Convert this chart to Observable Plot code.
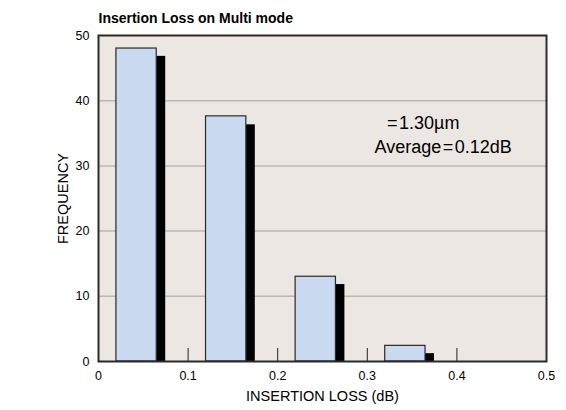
<!DOCTYPE html>
<html>
<head>
<meta charset="utf-8">
<script src="https://cdn.jsdelivr.net/npm/d3@7"></script>
<script src="https://cdn.jsdelivr.net/npm/@observablehq/plot@0.6"></script>
<style>
  html, body { margin: 0; padding: 0; background: #ffffff; }
  #chart { width: 566px; height: 410px; }
</style>
</head>
<body>
<div id="chart"></div>
<script>
// ---- data ----
const binStart = [0.02, 0.12, 0.22, 0.32];
const binEnd = [0.065, 0.165, 0.265, 0.365];
const frequency = [48, 37.6, 13, 2.4];
const shadowStart = [0.065, 0.165, 0.265, 0.365];
const shadowEnd = [0.075, 0.175, 0.275, 0.375];
const shadowTop = [46.8, 36.3, 11.8, 1.2];
const xTickValues = [0, 0.1, 0.2, 0.3, 0.4, 0.5];
const xInnerTicks = [0.1, 0.2, 0.3, 0.4];
const yTickValues = [0, 10, 20, 30, 40, 50];
const yGrid = [10, 20, 30, 40];
const title = "Insertion Loss on Multi mode";
const xLabel = "INSERTION LOSS (dB)";
const yLabel = "FREQUENCY";
const notes = ["=\u200A1.30µm", "Average\u200A=\u200A0.12dB"];
const noteX = [0.322, 0.308];
const noteY = [36.5, 32.8];

const bars = binStart.map((s, i) => ({x1: s, x2: binEnd[i], y: frequency[i]}));
const shadows = shadowStart.map((s, i) => ({x1: s, x2: shadowEnd[i], y: shadowTop[i]}));
const noteData = notes.map((t, i) => ({text: t, x: noteX[i], y: noteY[i]}));

const font = "'Liberation Sans', Arial, Helvetica, sans-serif";

const chart = Plot.plot({
  width: 566,
  height: 410,
  marginLeft: 98,
  marginRight: 20,
  marginTop: 35,
  marginBottom: 49,
  style: {fontFamily: font, fontSize: "12px", background: "#ffffff", color: "#000"},
  x: {domain: [0, 0.5]},
  y: {domain: [0, 50]},
  marks: [
    Plot.frame({fill: "#ece7e3", stroke: null}),
    Plot.ruleY(yGrid, {stroke: "#bcb8b4", strokeWidth: 1.5}),
    Plot.rectY(shadows, {x1: "x1", x2: "x2", y1: 0, y2: "y", fill: "#000", inset: 0}),
    Plot.rectY(bars, {x1: "x1", x2: "x2", y1: 0, y2: "y", fill: "#c9d9ef", stroke: "#2a2a2a", strokeWidth: 1.2, inset: 0}),
    Plot.ruleX(xInnerTicks, {y1: 0, y2: 2, stroke: "#222", strokeWidth: 1}),
    Plot.frame({stroke: "#2a2a2a", strokeWidth: 2}),
    Plot.axisY({ticks: yTickValues, tickSize: 0, tickPadding: 9, label: null, fontSize: 12.5, tickFormat: d => String(d)}),
    Plot.axisX({ticks: xTickValues, tickSize: 0, tickPadding: 10, label: null, fontSize: 12.5, tickFormat: d => String(d)}),
    Plot.text([xLabel], {frameAnchor: "bottom", dy: 35, lineAnchor: "middle", textAnchor: "middle", fontSize: 14.5, fill: "#000"}),
    Plot.text([yLabel], {frameAnchor: "left", dx: -35, rotate: -90, lineAnchor: "middle", textAnchor: "middle", fontSize: 14.5, fill: "#000"}),
    Plot.text([title], {frameAnchor: "top-left", dy: -17, lineAnchor: "middle", textAnchor: "start", fontSize: 14, fontWeight: "bold", fill: "#000"}),
    Plot.text(noteData, {x: "x", y: "y", text: "text", textAnchor: "start", lineAnchor: "middle", fontSize: 18, fill: "#000"})
  ]
});
document.getElementById("chart").appendChild(chart);
</script>
</body>
</html>
